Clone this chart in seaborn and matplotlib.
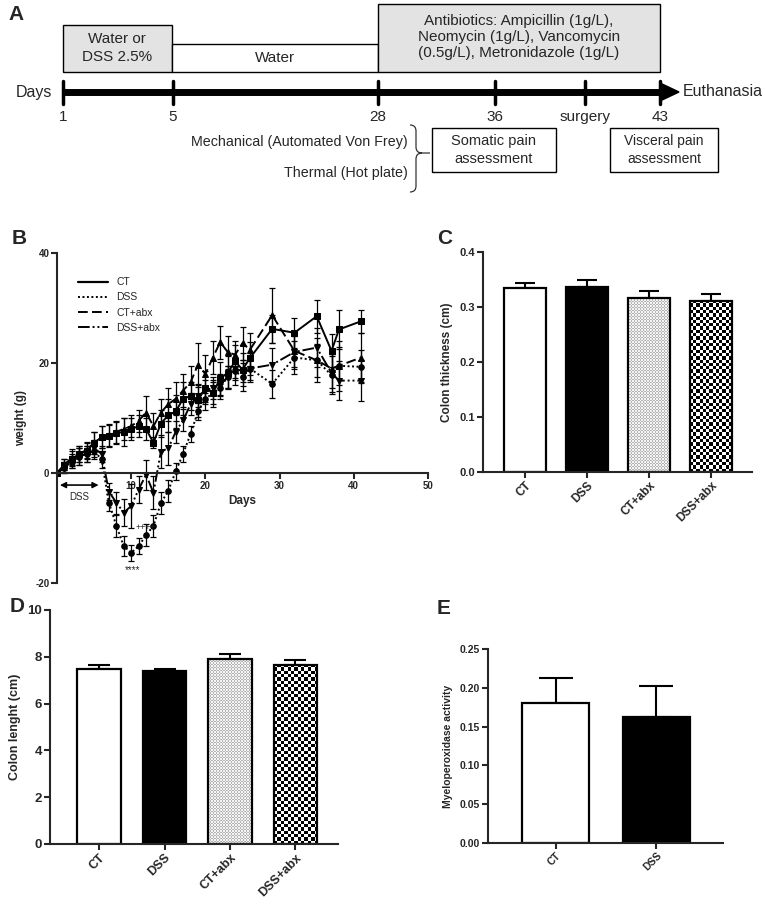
import numpy as np
import pandas as pd
import seaborn as sns
import matplotlib.pyplot as plt
from matplotlib.patches import Rectangle, Polygon, PathPatch
from matplotlib.path import Path
from matplotlib.lines import Line2D
from matplotlib.colors import ListedColormap

sns.set_style('ticks')
plt.rcParams['font.family'] = ['Liberation Sans', 'DejaVu Sans']
plt.rcParams['axes.linewidth'] = 1.5
plt.rcParams['axes.unicode_minus'] = False

# ---- panel B data: body weight gain (g), mean and SEM per day ----
days = list(range(0, 27)) + [29, 32, 35, 37, 38, 41]
groups = ['CT', 'DSS', 'CT+abx', 'DSS+abx']

w_ct = [0, 1.5, 2.5, 3.5, 4, 5.5, 6.5, 6.8, 7.2, 7.5, 8, 8.5, 8, 5.5, 9, 10.5, 11.2,
        13.5, 14, 13.2, 15.5, 14.5, 17.2, 18.2, 20.3, 18.8, 20.9,
        26.2, 25.5, 28.5, 22.2, 26.1, 27.6]
w_dss = [0, 1, 2, 3, 3.5, 4, 2.5, -5.4, -9.6, -13.3, -14.5, -13.3, -11.3, -9.6, -5.5,
         -3.2, 0.3, 3.5, 7.1, 11.2, 13.5, 14.5, 15.5, 17.5, 18.5, 17.5, 19,
         16.2, 21, 20.5, 17.8, 19.5, 19.3]
w_ctabx = [0, 1.5, 2.8, 3.5, 4.2, 5.5, 6.5, 7, 7.5, 8, 8.5, 9.5, 11, 8.5, 11, 12.5,
           13.5, 15, 16.5, 19.7, 18, 21, 23.8, 22, 21.5, 23.6, 22.4,
           28.7, 22.2, 20.5, 19, 19.5, 21]
w_dssabx = [0, 1, 2.5, 3, 3.5, 4.5, 3.5, -3.4, -5.4, -7.2, -6, -3, -0.3, -3.6, 3.9,
            4.5, 7.5, 9.6, 12.5, 14, 15, 15.5, 16, 17.5, 19, 18.5, 19,
            19.7, 22, 22.8, 18.2, 16.8, 16.8]

e_ct = [0.3, 1, 1.5, 1.5, 1.5, 2, 2, 2, 2, 2.5, 2, 2, 2, 1, 2.5, 3, 3, 3, 2.5, 3, 3,
        2.5, 3, 3, 3, 3, 3, 2.5, 2.7, 3, 3, 3.5, 2.1]
e_dss = [0.3, 1, 1, 1.5, 1.5, 1.5, 1.5, 1.5, 2, 1.8, 1.5, 1.5, 2, 2, 2, 2, 1.5, 1.5,
         1.5, 1.5, 2, 2, 2, 2, 2.5, 2.5, 2.5, 2.6, 3, 3, 3.5, 3.5, 3]
e_ctabx = [0.3, 1, 1.5, 1.5, 1.5, 2, 2, 2, 2, 2, 2, 2, 3, 2.5, 2.5, 3, 3, 3, 3, 4, 3.5,
           3, 3, 3, 2.5, 3, 3, 5, 3, 4, 3.5, 4.5, 4.5]
e_dssabx = [0.3, 1, 1, 1.5, 1.5, 1.5, 1.5, 1.5, 2, 2.5, 4, 2.5, 2.7, 3, 3, 3, 2, 2, 2,
            2, 2, 2, 2, 2, 2, 2, 2, 3, 3, 3.5, 3.5, 3.5, 3.7]

# ---- panels C, D, E ----
thick_groups = ['CT', 'DSS', 'CT+abx', 'DSS+abx']
thick_mean = [0.334, 0.337, 0.316, 0.311]
thick_sem = [0.010, 0.013, 0.013, 0.013]

length_groups = ['CT', 'DSS', 'CT+abx', 'DSS+abx']
length_mean = [7.5, 7.39, 7.89, 7.65]
length_sem = [0.17, 0.10, 0.25, 0.20]

mpo_groups = ['CT', 'DSS']
mpo_mean = [0.180, 0.163]
mpo_sem = [0.032, 0.039]

# ---- panel A timeline ----
tl_labels = ['1', '5', '28', '36', 'surgery', '43']

W, H = 765, 907
fig = plt.figure(figsize=(W / 100, H / 100), dpi=100)


def px_axes(l, t, r, b):
    return fig.add_axes([l / W, 1 - b / H, (r - l) / W, (b - t) / H])


# ================= A =================
axA = fig.add_axes([0, 1 - 190 / H, 1, 190 / H])
axA.set_xlim(0, W)
axA.set_ylim(190, 0)
axA.axis('off')
fsA = 11

axA.add_patch(Rectangle((63, 25), 109, 47, fc='#e3e3e3', ec='black', lw=1))
axA.add_patch(Rectangle((172, 44), 206, 28, fc='white', ec='black', lw=1))
axA.add_patch(Rectangle((378, 4), 282, 68, fc='#e3e3e3', ec='black', lw=1))
axA.text(117, 48, 'Water or\nDSS 2.5%', ha='center', va='center', fontsize=fsA,
         linespacing=1.3)
axA.text(275, 58, 'Water', ha='center', va='center', fontsize=fsA)
axA.text(519, 37, 'Antibiotics: Ampicillin (1g/L),\nNeomycin (1g/L), Vancomycin\n'
         '(0.5g/L), Metronidazole (1g/L)', ha='center', va='center', fontsize=fsA,
         linespacing=1.22)

tl_x = [63, 173, 378, 495, 585, 660]
axA.plot([tl_x[0], tl_x[-1]], [92, 92], color='black', lw=5, solid_capstyle='butt')
axA.add_patch(Polygon([[tl_x[-1], 83], [679, 92], [tl_x[-1], 101]], closed=True,
                      fc='black', ec='black'))
for x, lab in zip(tl_x, tl_labels):
    axA.plot([x, x], [81, 104], color='black', lw=2.5)
    axA.text(x, 117, lab, ha='center', va='center', fontsize=fsA)
axA.text(16, 92, 'Days', ha='left', va='center', fontsize=fsA + 0.5)
axA.text(683, 92, 'Euthanasia', ha='left', va='center', fontsize=fsA + 0.5)

axA.text(408, 142, 'Mechanical (Automated Von Frey)', ha='right', va='center',
         fontsize=10.3)
axA.text(408, 173, 'Thermal (Hot plate)', ha='right', va='center', fontsize=10.3)
brace = Path([(410, 125), (416, 125), (416, 131), (416, 147), (416, 153), (422, 153),
              (430, 153), (422, 153), (416, 153), (416, 159), (416, 186), (416, 192),
              (410, 192)],
             [Path.MOVETO, Path.CURVE3, Path.CURVE3, Path.LINETO, Path.CURVE3, Path.CURVE3,
              Path.LINETO, Path.MOVETO, Path.CURVE3, Path.CURVE3, Path.LINETO,
              Path.CURVE3, Path.CURVE3])
axA.add_patch(PathPatch(brace, fill=False, ec='#333333', lw=0.9, clip_on=False))
axA.add_patch(Rectangle((432, 128), 124, 44, fc='white', ec='black', lw=1))
axA.text(494, 150, 'Somatic pain\nassessment', ha='center', va='center', fontsize=10.5,
         linespacing=1.3)
axA.add_patch(Rectangle((610, 128), 108, 44, fc='white', ec='black', lw=1))
axA.text(664, 150, 'Visceral pain\nassessment', ha='center', va='center', fontsize=10,
         linespacing=1.3)

# ================= B =================
axB = px_axes(57, 253, 428, 583)
series = {'CT': (w_ct, e_ct), 'DSS': (w_dss, e_dss),
          'CT+abx': (w_ctabx, e_ctabx), 'DSS+abx': (w_dssabx, e_dssabx)}
dfB = pd.concat([pd.DataFrame({'day': days, 'weight': v, 'group': g})
                 for g, (v, e) in series.items()])
dash_map = {'CT': '', 'DSS': (1, 1.3), 'CT+abx': (5, 2.2), 'DSS+abx': (6, 1.5, 1, 1.5, 1, 1.5)}
mark_map = {'CT': 's', 'DSS': 'o', 'CT+abx': '^', 'DSS+abx': 'v'}
sns.lineplot(data=dfB, x='day', y='weight', style='group', style_order=groups,
             dashes=dash_map, markers=mark_map, color='black', markersize=4,
             markeredgecolor='black', linewidth=1.4, errorbar=None, legend=False, ax=axB)
for g, (v, e) in series.items():
    axB.errorbar(days, v, yerr=e, fmt='none', ecolor='black', elinewidth=0.9,
                 capsize=2.2, capthick=0.9)

axB.set_xlim(0, 50)
axB.set_ylim(-20, 40)
axB.spines['bottom'].set_position(('data', 0))
axB.spines[['top', 'right']].set_visible(False)
axB.set_xticks([10, 20, 30, 40, 50])
axB.set_yticks([-20, 0, 20, 40])
axB.tick_params(length=4, width=1.5, labelsize=7, pad=1.5)
for t in axB.get_xticklabels() + axB.get_yticklabels():
    t.set_fontweight('bold')
axB.set_xlabel('Days', fontweight='bold', fontsize=8.5, labelpad=3)
axB.set_ylabel('weight (g)', fontweight='bold', fontsize=8.5, labelpad=6)

handles = [Line2D([], [], color='black', lw=1.4, dashes=dash_map[g])
           if dash_map[g] else Line2D([], [], color='black', lw=1.6) for g in groups]
axB.legend(handles, groups, loc='upper left', bbox_to_anchor=(0.03, 0.955), frameon=False,
           fontsize=7.5, handlelength=2.9, handletextpad=0.8, labelspacing=0.5)

axB.annotate('', xy=(0.4, -2.2), xytext=(5.6, -2.2),
             arrowprops=dict(arrowstyle='<|-|>', color='black', lw=1, mutation_scale=9,
                             shrinkA=0, shrinkB=0))
axB.plot([1.3, 4.7], [-2.2, -2.2], color='#888888', lw=1.2)
axB.text(3.0, -4.3, 'DSS', ha='center', va='center', fontsize=7)
axB.text(10.2, -17.6, '****', ha='center', va='center', fontsize=7)
axB.text(12.0, -9.9, '++++', ha='center', va='center', fontsize=6.5)


# ================= bar panels =================
def pattern_fill(ax, patch, cell, c1, c2):
    x0, x1 = patch.get_x(), patch.get_x() + patch.get_width()
    y0, y1 = patch.get_y(), patch.get_y() + patch.get_height()
    (px0, py0), (px1, py1) = ax.transData.transform([(x0, y0), (x1, y1)])
    nx = max(1, int(round(abs(px1 - px0) / cell)))
    ny = max(1, int(round(abs(py1 - py0) / cell)))
    grid = np.indices((ny, nx)).sum(axis=0) % 2
    im = ax.imshow(grid, extent=(x0, x1, y0, y1), cmap=ListedColormap([c1, c2]),
                   aspect='auto', interpolation='nearest', zorder=patch.get_zorder() - 0.05)
    im.set_clip_path(patch)
    patch.set_facecolor('none')


def bar_panel(ax, cats, vals, errs, xlim, ylim, yticks, fmt, tick_fs, xl_fs, ylab,
              ylab_fs, capsize):
    fills = ['white', 'black', 'white', 'white']
    sns.barplot(x=cats, y=vals, hue=cats, palette=fills[:len(cats)], legend=False,
                width=0.67, edgecolor='black', linewidth=1.6, errorbar=None, ax=ax)
    ax.set_xlim(*xlim)
    ax.set_ylim(*ylim)
    n = len(cats)
    ax.errorbar(np.arange(n), vals, yerr=[np.zeros(n), errs], fmt='none', ecolor='black',
                elinewidth=1.5, capsize=capsize, capthick=1.5, zorder=0.5)
    bars = sorted(ax.patches, key=lambda p: p.get_x())
    for i, p in enumerate(bars):
        if i == 2:
            pattern_fill(ax, p, 1.5, '#f4f4f4', '#b4b4b4')
        elif i == 3:
            pattern_fill(ax, p, 3.3, 'white', 'black')
    ax.set_xlim(*xlim)
    ax.set_ylim(*ylim)
    ax.set_yticks(yticks)
    ax.set_yticklabels([fmt.format(v) for v in yticks])
    ax.spines[['top', 'right']].set_visible(False)
    ax.tick_params(length=4, width=1.5, labelsize=tick_fs, pad=1.5)
    ax.set_xticks(np.arange(n))
    ax.set_xticklabels(cats, rotation=45, ha='right', rotation_mode='anchor',
                       fontsize=xl_fs, fontweight='bold')
    for t in ax.get_yticklabels():
        t.set_fontweight('bold')
    ax.set_xlabel('')
    ax.set_ylabel(ylab, fontweight='bold', fontsize=ylab_fs, labelpad=5)


axC = px_axes(483, 252, 752, 472)
bar_panel(axC, thick_groups, thick_mean, thick_sem, (-0.68, 3.66), (0, 0.4),
          [0.0, 0.1, 0.2, 0.3, 0.4], '{:.1f}', 8, 8.5, 'Colon thickness (cm)', 8.5, 7)

axD = px_axes(50, 610, 338, 844)
bar_panel(axD, length_groups, length_mean, length_sem, (-0.75, 3.65), (0, 10),
          [0, 2, 4, 6, 8, 10], '{:.0f}', 9.5, 9, 'Colon lenght (cm)', 9, 8)

axE = px_axes(488, 649, 723, 843)
bar_panel(axE, mpo_groups, mpo_mean, mpo_sem, (-0.67, 1.66), (0, 0.25),
          [0.0, 0.05, 0.10, 0.15, 0.20, 0.25], '{:.2f}', 7.5, 7.5,
          'Myeloperoxidase activity', 7.5, 12)

# panel letters
for lab, x, y in [('A', 8, 14), ('B', 12, 238), ('C', 437, 238), ('D', 10, 607),
                  ('E', 437, 608)]:
    fig.text(x / W, 1 - y / H, lab, fontsize=15, fontweight='bold', va='center', ha='left')

fig.savefig('out.png', dpi=100)
